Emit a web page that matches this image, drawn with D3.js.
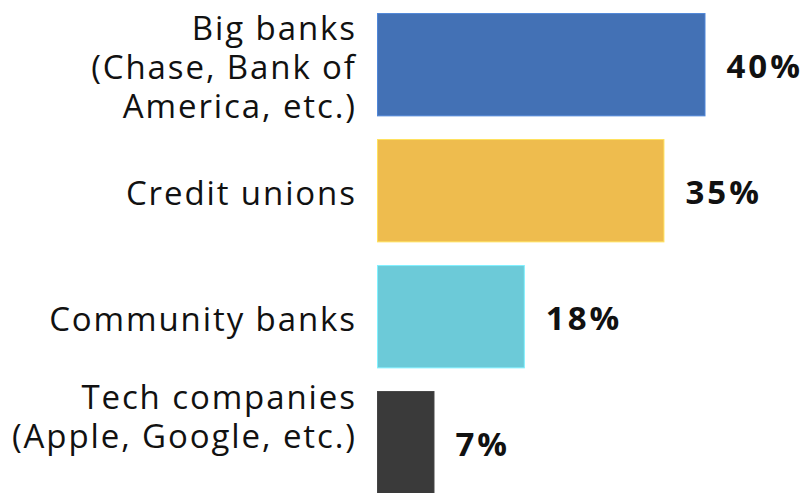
<!DOCTYPE html>
<html>
<head>
<meta charset="utf-8">
<script src="https://cdn.jsdelivr.net/npm/d3@7"></script>
<style>
  html, body { margin: 0; padding: 0; background: #fff; }
  svg { display: block; }
</style>
</head>
<body>
<svg id="chart" width="806" height="493"></svg>
<script>
// Where people bank: share of respondents by institution type
const categories = ["Big banks", "Credit unions", "Community banks", "Tech companies"];
const categoryLines = [
  ["Big banks", "(Chase, Bank of", "America, etc.)"],
  ["Credit unions"],
  ["Community banks"],
  ["Tech companies", "(Apple, Google, etc.)"]
];
const shares = [40, 35, 18, 7];
const barColors = ["#4371b5", "#eebc4e", "#6ccad8", "#3a3a3a"];

const width = 806, height = 493;
const svg = d3.select("#chart");

const x = d3.scaleLinear().domain([0, 40]).range([377, 705.5]);
const y = d3.scaleBand()
  .domain(categories)
  .range([1.7, 505.7])
  .paddingInner(0.18)
  .paddingOuter(0.09);

const rows = categories.map((c, i) => ({
  cat: c, lines: categoryLines[i], value: shares[i], color: barColors[i]
}));

// Bars with a faint lighter edge
svg.append("g").selectAll("rect")
  .data(rows)
  .join("rect")
  .attr("x", d => x(0) + 0.5)
  .attr("y", d => y(d.cat) + 0.5)
  .attr("width", d => x(d.value) - x(0) - 1)
  .attr("height", y.bandwidth() - 1)
  .attr("fill", d => d.color)
  .attr("stroke", d => d3.color(d.color).brighter(0.5))
  .attr("stroke-width", 1);

// Category labels, right-aligned, kept clear of the bottom edge
const fontSize = 33, lineH = 38.8, spacing = 1.9;
const labelG = svg.append("g")
  .attr("font-family", "'Open Sans', sans-serif")
  .attr("font-size", fontSize)
  .attr("letter-spacing", spacing)
  .attr("fill", "#111");
rows.forEach(d => {
  const n = d.lines.length;
  let base = y(d.cat) + y.bandwidth() / 2 + 14 - (n - 1) * lineH / 2;
  const lastBase = base + (n - 1) * lineH;
  const maxLast = height - 45;
  if (lastBase > maxLast) base -= lastBase - maxLast;
  d.lines.forEach((line, j) => {
    labelG.append("text")
      .attr("text-anchor", "end")
      .attr("x", 355 + spacing)
      .attr("y", base + j * lineH)
      .text(line);
  });
});

// Value labels
svg.append("g")
  .attr("font-family", "'Open Sans', sans-serif")
  .attr("font-size", 33)
  .attr("font-weight", 700)
  .attr("letter-spacing", 3)
  .attr("fill", "#111")
  .selectAll("text")
  .data(rows)
  .join("text")
  .attr("x", d => x(d.value) + 21)
  .attr("y", d => y(d.cat) + y.bandwidth() / 2 + 13)
  .text(d => d.value + "%");
</script>
</body>
</html>
